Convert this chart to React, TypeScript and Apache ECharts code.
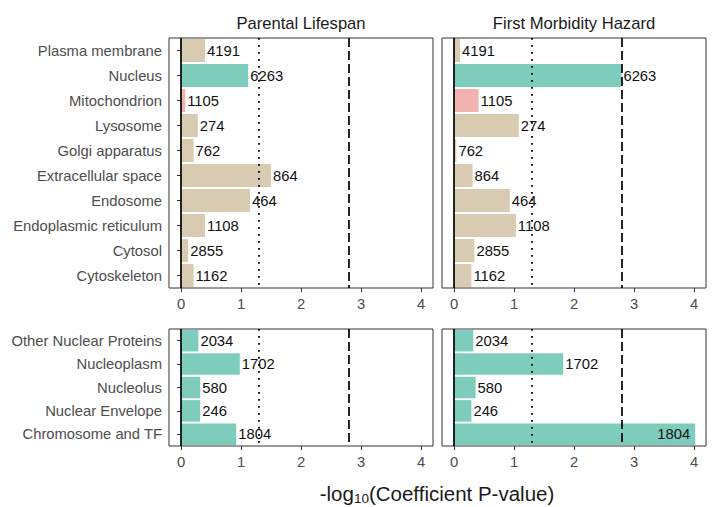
import React, { useEffect, useRef } from "react";
import * as echarts from "echarts";

const panelTitles = ["Parental Lifespan", "First Morbidity Hazard"];

const topCategories = [
  "Plasma membrane",
  "Nucleus",
  "Mitochondrion",
  "Lysosome",
  "Golgi apparatus",
  "Extracellular space",
  "Endosome",
  "Endoplasmic reticulum",
  "Cytosol",
  "Cytoskeleton",
];
const topCounts = [4191, 6263, 1105, 274, 762, 864, 464, 1108, 2855, 1162];
const topGroups = ["other", "nucleus", "mito", "other", "other", "other", "other", "other", "other", "other"];
const topParental = [0.4, 1.12, 0.07, 0.28, 0.21, 1.5, 1.15, 0.4, 0.12, 0.21];
const topMorbidity = [0.1, 2.79, 0.41, 1.08, 0.04, 0.31, 0.93, 1.03, 0.34, 0.29];

const bottomCategories = [
  "Other Nuclear Proteins",
  "Nucleoplasm",
  "Nucleolus",
  "Nuclear Envelope",
  "Chromosome and TF",
];
const bottomCounts = [2034, 1702, 580, 246, 1804];
const bottomGroups = ["nucleus", "nucleus", "nucleus", "nucleus", "nucleus"];
const bottomParental = [0.29, 0.98, 0.32, 0.32, 0.92];
const bottomMorbidity = [0.32, 1.82, 0.36, 0.29, 4.02];

const xTicks = [0, 1, 2, 3, 4];
const zeroLine = 0;
const nominalLine = 1.3;
const bonferroniLine = 2.8;

const groupColors: Record<string, string> = {
  other: "#D9CAB2",
  nucleus: "#7ECDBC",
  mito: "#F1B2B0",
};

const FONT = "'Liberation Sans', Arial, Helvetica, sans-serif";

export default function App() {
  const ref = useRef<HTMLDivElement>(null);

  useEffect(() => {
    if (!ref.current) return;
    const chart = echarts.init(ref.current, undefined, { renderer: "svg" });

    const grids = [
      { left: 169, top: 38, width: 264, height: 250 },
      { left: 442, top: 38, width: 264, height: 250 },
      { left: 169, top: 329, width: 264, height: 117 },
      { left: 442, top: 329, width: 264, height: 117 },
    ].map((g) => ({
      ...g,
      show: true,
      borderColor: "#333333",
      borderWidth: 1,
      backgroundColor: "transparent",
      containLabel: false,
    }));

    const xAxes = [0, 1, 2, 3].map((i) => ({
      type: "value",
      gridIndex: i,
      min: -0.2,
      max: 4.2,
      axisLine: { show: false },
      splitLine: { show: false },
      axisTick: {
        show: true,
        length: 4,
        customValues: xTicks,
        lineStyle: { color: "#333333", width: 1 },
      },
      axisLabel: {
        show: true,
        customValues: xTicks,
        color: "#4D4D4D",
        fontSize: 14.8,
        fontFamily: FONT,
        margin: 8,
      },
    }));

    const yAxes = [0, 1, 2, 3].map((i) => ({
      type: "category",
      gridIndex: i,
      inverse: true,
      data: i < 2 ? topCategories : bottomCategories,
      axisLine: { show: false },
      splitLine: { show: false },
      axisTick: {
        show: i % 2 === 0,
        length: 4,
        alignWithLabel: true,
        lineStyle: { color: "#333333", width: 1 },
      },
      axisLabel: {
        show: i % 2 === 0,
        color: "#4D4D4D",
        fontSize: 14.8,
        fontFamily: FONT,
        margin: 7,
      },
    }));

    const panels = [
      { values: topParental, counts: topCounts, groups: topGroups },
      { values: topMorbidity, counts: topCounts, groups: topGroups },
      { values: bottomParental, counts: bottomCounts, groups: bottomGroups },
      { values: bottomMorbidity, counts: bottomCounts, groups: bottomGroups },
    ];

    const series = panels.map((p, i) => ({
      type: "bar",
      xAxisIndex: i,
      yAxisIndex: i,
      barWidth: "92%",
      data: p.values.map((v, j) => {
        const inside = v > 3.6;
        return {
          value: v,
          count: p.counts[j],
          itemStyle: { color: groupColors[p.groups[j]] },
          label: inside
            ? { position: "insideRight", distance: 5 }
            : { position: "right", distance: 2 },
        };
      }),
      label: {
        show: true,
        formatter: (params: any) => String(params.data.count),
        color: "#111111",
        fontSize: 14.8,
        fontFamily: FONT,
      },
      markLine: {
        silent: true,
        symbol: ["none", "none"],
        label: { show: false },
        animation: false,
        data: [
          { xAxis: zeroLine, lineStyle: { color: "#000000", width: 1.7, type: "solid" } },
          { xAxis: nominalLine, lineStyle: { color: "#000000", width: 1.8, type: [1.8, 5.2] } },
          { xAxis: bonferroniLine, lineStyle: { color: "#000000", width: 1.7, type: [9, 4] } },
        ],
      },
    }));

    const option: any = {
      animation: false,
      backgroundColor: "#ffffff",
      grid: grids,
      xAxis: xAxes,
      yAxis: yAxes,
      series,
      graphic: [
        {
          type: "text",
          x: 301,
          y: 23,
          style: {
            text: panelTitles[0],
            fill: "#1A1A1A",
            font: `16.6px ${FONT}`,
            align: "center",
            verticalAlign: "middle",
          },
        },
        {
          type: "text",
          x: 574,
          y: 23,
          style: {
            text: panelTitles[1],
            fill: "#1A1A1A",
            font: `16.6px ${FONT}`,
            align: "center",
            verticalAlign: "middle",
          },
        },
        {
          type: "text",
          x: 437,
          y: 493,
          style: {
            text: "{a|-log}{b|10}{a|(Coefficient P-value)}",
            align: "center",
            verticalAlign: "middle",
            rich: {
              a: { fontSize: 20.5, fontFamily: FONT, fill: "#1A1A1A", color: "#1A1A1A" },
              b: {
                fontSize: 13.5,
                fontFamily: FONT,
                fill: "#1A1A1A",
                color: "#1A1A1A",
                padding: [11, 0, 0, 0],
              },
            },
          },
        },
      ],
    };

    chart.setOption(option);
    return () => chart.dispose();
  }, []);

  return (
    <div
      ref={ref}
      style={{ position: "absolute", left: 0, top: 0, width: 716, height: 507 }}
    />
  );
}
